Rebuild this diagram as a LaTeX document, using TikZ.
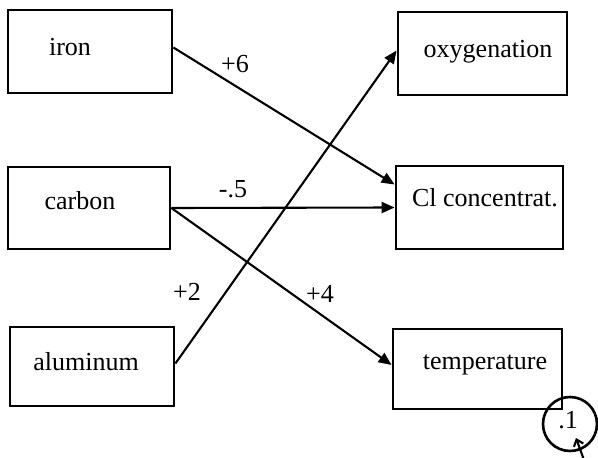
\documentclass[tikz,border=0pt]{standalone}
\usepackage{fontspec}
\setmainfont{Liberation Serif}
\usetikzlibrary{arrows.meta,calc}
\begin{document}
\begin{tikzpicture}[x=1pt,y=-1pt,
  box/.style={draw,line width=2.8pt,rectangle,inner sep=0pt},
  txt/.style={font=\fontsize{26}{30}\selectfont,inner sep=0pt},
  lbl/.style={font=\fontsize{26}{30}\selectfont,inner sep=0pt},
  conn/.style={line width=2.1pt,-{Triangle[length=13pt,width=11pt]}}]
\useasboundingbox (0,0) rectangle (598,458);
% boxes
\node[box,minimum width=164pt,minimum height=83pt] (iron) at (90,51.5) {};
\node[box,minimum width=162pt,minimum height=82pt] (carbon) at (89,208) {};
\node[box,minimum width=164pt,minimum height=79pt] (alu) at (92,366.5) {};
\node[box,minimum width=169pt,minimum height=83pt] (oxy) at (482.5,53.5) {};
\node[box,minimum width=167pt,minimum height=83pt] (cl) at (479.5,207.5) {};
\node[box,minimum width=169pt,minimum height=80pt] (temp) at (477.5,369) {};
% texts
\node[txt] (tiron) at (70,47) {iron};
\node[txt] (tcarbon) at (80,201) {carbon};
\node[txt] (talu) at (86,362) {aluminum};
\node[txt] (toxy) at (488,52) {oxygenation};
\node[txt] (tcl) at (485,198) {Cl concentrat.};
\node[txt] (ttemp) at (485,365) {temperature};
% error circle
\node[draw,circle,line width=2.6pt,minimum size=54pt,inner sep=0pt] (err) at (570,424) {};
\node[txt] (terr) at (568,420) {.1};
\coordinate (errsrc) at (584,460);
\coordinate (errtip) at (576,438);
% connectors
\draw[conn] ($(iron.east)+(0,-4)$) -- ($(cl.west)+(0,-23)$);
\draw[conn] (carbon.east) -- (cl.west);
\draw[conn] (carbon.east) -- ($(temp.west)+(0,-4)$);
\draw[conn] ($(alu.east)+(0,-3)$) -- ($(oxy.west)+(0,-3)$);
\draw[line width=2.1pt,-{Straight Barb[length=6pt,width=10pt]}] (errsrc) -- (errtip);
% labels
\node[lbl] (l6) at (235,64) {+6};
\node[lbl] (l5) at (233,189) {-.5};
\node[lbl] (l2) at (187,292) {+2};
\node[lbl] (l4) at (320,294) {+4};
\end{tikzpicture}
\end{document}
